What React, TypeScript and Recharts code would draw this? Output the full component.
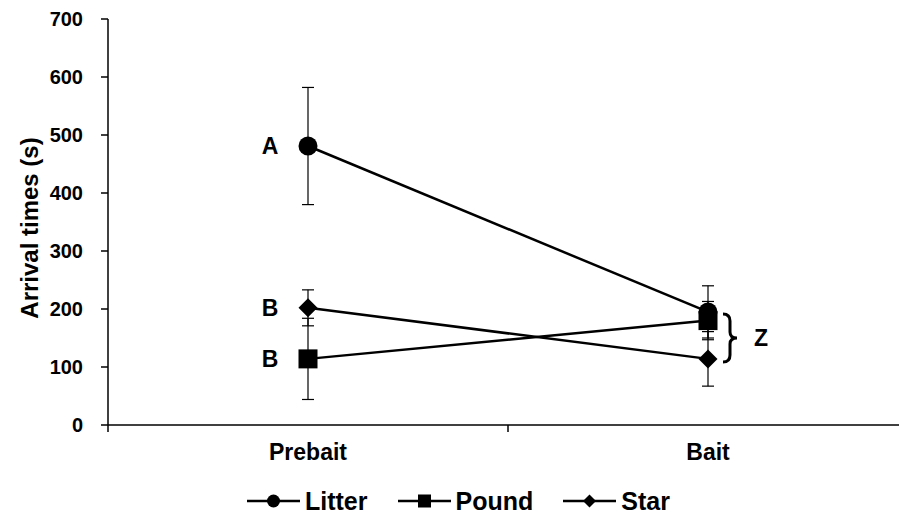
import React from 'react';
import { LineChart, Line, XAxis, YAxis, ErrorBar, Legend, LabelList, ReferenceDot } from 'recharts';

// values (seconds)
const categories = ['Prebait', 'Bait'];
const litterMeans = [481, 195];
const litterErrors = [101, 45];
const poundMeans = [114, 180];
const poundErrors = [70, 33];
const starMeans = [202, 114];
const starErrors = [31, 47];
const litterLetters = ['A', ''];
const poundLetters = ['B', ''];
const starLetters = ['B', ''];
const yTicks = [0, 100, 200, 300, 400, 500, 600, 700];
const baitGroup = { category: 'Bait', value: 150, letter: 'Z' };

const FONT = '"Liberation Sans", Arial, sans-serif';

const data = categories.map((name, i) => ({
  name,
  pos: i + 0.5,
  litter: litterMeans[i],
  litterErr: litterErrors[i],
  litterLetter: litterLetters[i],
  pound: poundMeans[i],
  poundErr: poundErrors[i],
  poundLetter: poundLetters[i],
  star: starMeans[i],
  starErr: starErrors[i],
  starLetter: starLetters[i],
}));

const series = [
  { key: 'litter', name: 'Litter', shape: 'circle' },
  { key: 'pound', name: 'Pound', shape: 'square' },
  { key: 'star', name: 'Star', shape: 'diamond' },
];

const Marker = ({ shape, cx, cy, size }: any) => {
  const h = size / 2;
  if (shape === 'circle') return <circle cx={cx} cy={cy} r={h} fill="#000" />;
  if (shape === 'square') return <rect x={cx - h} y={cy - h} width={size} height={size} fill="#000" />;
  return <polygon points={`${cx},${cy - h} ${cx + h},${cy} ${cx},${cy + h} ${cx - h},${cy}`} fill="#000" />;
};

const XTick = ({ x, y, payload }: any) => {
  const v = payload.value;
  if (Number.isInteger(v)) {
    return <line x1={x} y1={y} x2={x} y2={y + 7} stroke="#000" strokeWidth={1.5} />;
  }
  return (
    <text x={x} y={y + 35} textAnchor="middle" fontFamily={FONT} fontWeight="bold" fontSize={23} fill="#000">
      {categories[Math.floor(v)]}
    </text>
  );
};

const LetterLabel = ({ x, y, value }: any) => {
  if (!value) return null;
  return (
    <text x={x - 38} y={y + 8} textAnchor="middle" fontFamily={FONT} fontWeight="bold" fontSize={23} fill="#000">
      {value}
    </text>
  );
};

const GroupBrace = ({ cx, cy }: any) => {
  const x0 = cx + 15;
  const x1 = cx + 22;
  const x2 = cx + 29;
  const top = cy - 24;
  const bot = cy + 24;
  const d = `M${x0},${top} Q${x1},${top} ${x1},${top + 7} L${x1},${cy - 6} Q${x1},${cy} ${x2},${cy} Q${x1},${cy} ${x1},${cy + 6} L${x1},${bot - 7} Q${x1},${bot} ${x0},${bot}`;
  return (
    <g>
      <path d={d} fill="none" stroke="#000" strokeWidth={3} />
      <text x={cx + 53} y={cy + 8} textAnchor="middle" fontFamily={FONT} fontWeight="bold" fontSize={23} fill="#000">
        {baitGroup.letter}
      </text>
    </g>
  );
};

const LegendContent = () => (
  <div style={{ display: 'flex', alignItems: 'center', height: 36, paddingLeft: 247, fontFamily: FONT }}>
    {series.map((s) => (
      <div key={s.key} style={{ display: 'flex', alignItems: 'center', marginRight: 30 }}>
        <svg width={53} height={20}>
          <line x1={0} y1={10} x2={53} y2={10} stroke="#000" strokeWidth={2.5} />
          <Marker shape={s.shape} cx={26.5} cy={10} size={13} />
        </svg>
        <span style={{ marginLeft: 5, fontSize: 25, fontWeight: 'bold', color: '#000' }}>{s.name}</span>
      </div>
    ))}
  </div>
);

export default function App() {
  return (
    <div style={{ position: 'absolute', left: 0, top: 0, width: 899, height: 525, overflow: 'hidden', background: '#fff' }}>
      <LineChart width={908} height={525} data={data} margin={{ top: 19, right: 0, bottom: 6, left: 0 }}>
        <XAxis
          dataKey="pos"
          type="number"
          domain={[0, 2]}
          ticks={[0, 0.5, 1, 1.5, 2]}
          tick={<XTick />}
          tickLine={false}
          tickSize={0}
          tickMargin={0}
          height={58}
          axisLine={{ stroke: '#000', strokeWidth: 1.5 }}
          interval={0}
        />
        <YAxis
          type="number"
          domain={[0, 700]}
          ticks={yTicks}
          width={108}
          tickSize={7}
          tickMargin={18}
          tickLine={{ stroke: '#000', strokeWidth: 1.5 }}
          axisLine={{ stroke: '#000', strokeWidth: 1.5 }}
          tick={{ fontFamily: FONT, fontWeight: 'bold', fontSize: 20, fill: '#000' }}
          interval={0}
          label={({ viewBox }: any) => {
            const cy = viewBox.y + viewBox.height / 2 + 6;
            return (
              <text
                x={38}
                y={cy}
                transform={`rotate(-90, 38, ${cy})`}
                textAnchor="middle"
                fontFamily={FONT}
                fontWeight="bold"
                fontSize={24}
                fill="#000"
              >
                Arrival times (s)
              </text>
            );
          }}
        />
        <Legend verticalAlign="bottom" content={<LegendContent />} wrapperStyle={{ left: 0, width: 908, height: 36 }} />
        {series.map((s) => (
          <Line
            key={s.key}
            dataKey={s.key}
            name={s.name}
            stroke="#000"
            strokeWidth={2.5}
            isAnimationActive={false}
            dot={(p: any) => <Marker key={`${s.key}-${p.index}`} shape={s.shape} cx={p.cx} cy={p.cy} size={19} />}
            activeDot={false}
          >
            <ErrorBar dataKey={`${s.key}Err`} width={6} stroke="#000" strokeWidth={1.2} direction="y" />
            <LabelList dataKey={`${s.key}Letter`} content={<LetterLabel />} />
          </Line>
        ))}
        <ReferenceDot
          x={categories.indexOf(baitGroup.category) + 0.5}
          y={baitGroup.value}
          r={0}
          shape={(p: any) => <GroupBrace cx={p.cx} cy={p.cy} />}
        />
      </LineChart>
    </div>
  );
}
